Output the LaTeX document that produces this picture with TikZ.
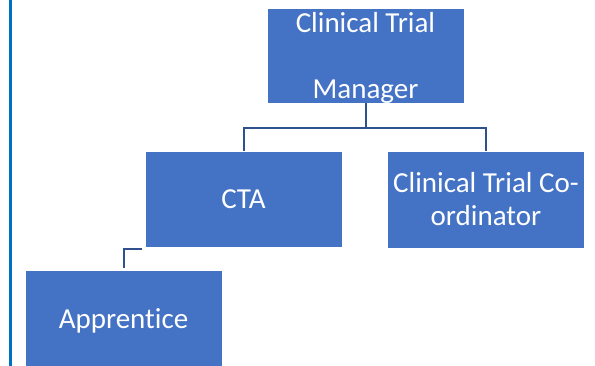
\documentclass[tikz,border=0pt]{standalone}
\usepackage{fontspec}
\setmainfont[Ligatures=NoCommon]{Carlito}
\usetikzlibrary{calc}
\definecolor{boxblue}{RGB}{68,114,196}
\definecolor{linkblue}{RGB}{47,82,143}
\definecolor{edgeblue}{RGB}{0,112,192}
\begin{document}
\begin{tikzpicture}[x=1pt,y=-1pt,
  orgbox/.style={draw=white,line width=0.8pt,fill=boxblue,text=white,
    minimum width=197pt,inner sep=0pt,align=center,
    font=\fontsize{29}{33}\selectfont},
  link/.style={draw=linkblue,line width=2pt}]
\useasboundingbox (0,0) rectangle (595,366);
\fill[white] (0,0) rectangle (595,366);
\fill[edgeblue] (8.5,0) rectangle (11.5,366);
\node[orgbox,minimum height=95pt,font=\fontsize{29}{66}\selectfont] (mgr) at (365.5,55.5) {};
\node[text=white,font=\fontsize{29}{66}\selectfont,align=center,inner sep=0pt] (mgrtext) at ($(mgr.center)+(0,2)$) {Clinical Trial\\Manager};
\node[orgbox,minimum height=96pt] (cta) at (243.5,199) {CTA};
\node[orgbox,minimum height=97pt] (crd) at (486,199.5) {Clinical Trial Co-\\ordinator};
\node[orgbox,minimum height=97pt] (app) at (123.5,318.5) {};
\node[text=white,font=\fontsize{29}{33}\selectfont,inner sep=0pt] (apptext) at ($(app.center)+(0,2.5)$) {Apprentice};
\draw[link] (mgr.south) -- ++(0,25) -| (cta.north);
\draw[link] (mgr.south) -- ++(0,25) -| (crd.north);
\coordinate (c1) at ($(cta.south west)+(-3,2)$);
\draw[link] (c1) -| ($(app.north)+(0,-2)$);
\end{tikzpicture}
\end{document}
